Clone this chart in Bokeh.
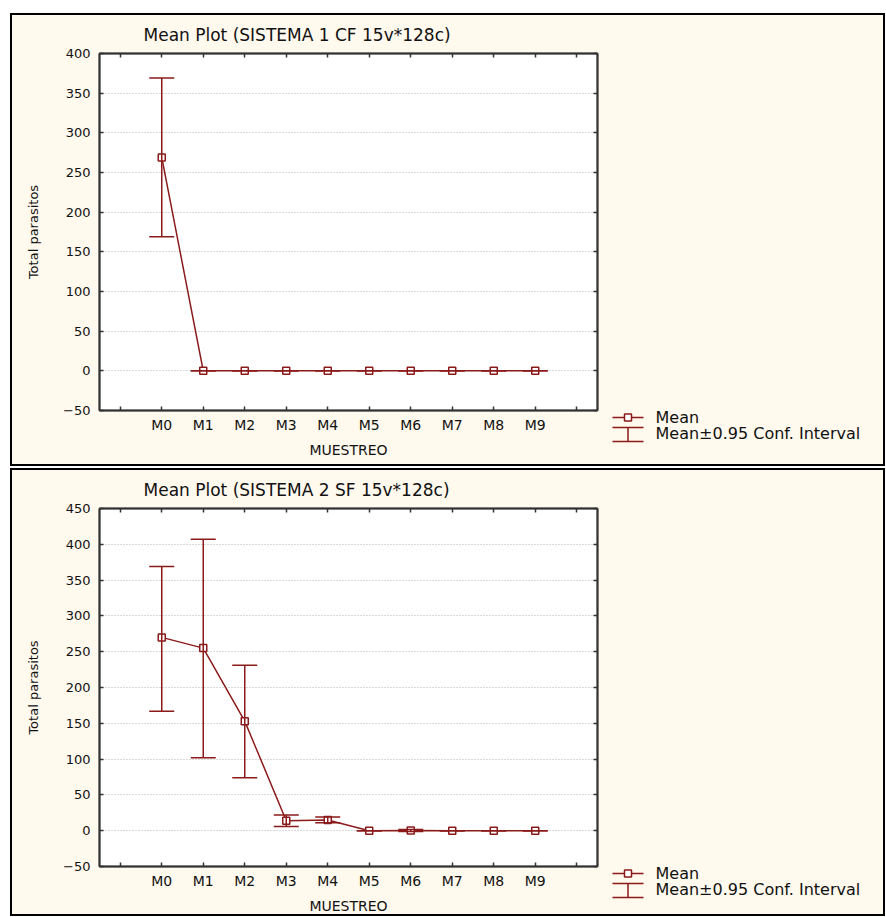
from bokeh.plotting import figure
from bokeh.models import (ColumnDataSource, Range1d, FixedTicker, LinearAxis,
                          Whisker, TeeHead, Label, Spacer, InlineStyleSheet)
from bokeh.layouts import column, row
from bokeh.embed import file_html
from bokeh.resources import INLINE

# ---------------- data ----------------
categories = ["M0", "M1", "M2", "M3", "M4", "M5", "M6", "M7", "M8", "M9"]

s1_title = "Mean Plot (SISTEMA 1 CF 15v*128c)"
s1_mean = [269, 0, 0, 0, 0, 0, 0, 0, 0, 0]
s1_lower = [169, 0, 0, 0, 0, 0, 0, 0, 0, 0]
s1_upper = [369, 0, 0, 0, 0, 0, 0, 0, 0, 0]
s1_yticks = [-50, 0, 50, 100, 150, 200, 250, 300, 350, 400]

s2_title = "Mean Plot (SISTEMA 2 SF 15v*128c)"
s2_mean = [270, 255, 153, 14, 15, 0, 0.3, 0, 0, 0]
s2_lower = [167, 102, 74, 6, 11, 0, -1.2, 0, 0, 0]
s2_upper = [369, 407, 231, 22, 19, 0, 1.8, 0, 0, 0]
s2_yticks = [-50, 0, 50, 100, 150, 200, 250, 300, 350, 400, 450]

x_label = "MUESTREO"
y_label = "Total parasitos"
legend_mean = "Mean"
legend_ci = "Mean\u00b10.95 Conf. Interval"

# ---------------- style ----------------
RED = "#8B1A1A"
CREAM = "#FFF9EE"
AXC = "#333333"
FONT = "DejaVu Sans"
TXT = "#111111"
MAIN_W = 600
LEG_W = 275


def style_axis(ax):
    ax.axis_line_color = AXC
    ax.axis_line_width = 2
    ax.major_tick_line_color = AXC
    ax.major_tick_line_width = 1.5
    ax.major_tick_in = 4
    ax.major_tick_out = 0
    ax.minor_tick_line_color = AXC
    ax.minor_tick_line_width = 1.5
    ax.minor_tick_in = 4
    ax.minor_tick_out = 0
    ax.major_label_text_font = FONT
    ax.major_label_text_color = TXT
    ax.axis_label_text_font = FONT
    ax.axis_label_text_font_style = "normal"
    ax.axis_label_text_color = TXT


def make_main(title, mean, lower, upper, yticks, height, mb_top, mb_bottom):
    xs = [i + 1 for i in range(len(categories))]
    src = ColumnDataSource(dict(x=xs, mean=mean, lower=lower, upper=upper))
    edge_ticks = [0, len(categories) + 1]
    overrides = {i + 1: c for i, c in enumerate(categories)}

    p = figure(width=MAIN_W, height=height, output_backend="svg",
               toolbar_location=None,
               x_range=Range1d(-0.5, len(categories) + 1.5),
               y_range=Range1d(yticks[0], yticks[-1]),
               min_border_left=89, min_border_right=MAIN_W - 587,
               min_border_top=mb_top, min_border_bottom=mb_bottom,
               background_fill_color="white", border_fill_color=CREAM,
               outline_line_color=AXC, outline_line_width=1.5)

    p.title.text = title
    p.title.align = "left"
    p.title.offset = 44
    p.title.text_font = FONT
    p.title.text_font_size = "17px"
    p.title.text_font_style = "normal"
    p.title.text_color = TXT
    p.title.standoff = 18

    xa = p.below[0]
    ya = p.left[0]
    xa.ticker = FixedTicker(ticks=xs, minor_ticks=edge_ticks)
    xa.major_label_overrides = overrides
    xa.axis_label = x_label
    ya.ticker = FixedTicker(ticks=yticks)
    ya.axis_label = y_label

    top = LinearAxis(ticker=FixedTicker(ticks=xs, minor_ticks=edge_ticks))
    right = LinearAxis(ticker=FixedTicker(ticks=yticks))
    p.add_layout(top, "above")
    p.add_layout(right, "right")

    for ax in (xa, ya, top, right):
        style_axis(ax)
    for ax in (top, right):
        ax.major_label_text_color = None
        ax.major_label_standoff = 0

    xa.major_label_text_font_size = "14px"
    xa.major_label_standoff = 6
    xa.axis_label_text_font_size = "14px"
    xa.axis_label_standoff = 6
    ya.major_label_text_font_size = "13px"
    ya.major_label_standoff = 9
    ya.axis_label_text_font_size = "13px"
    ya.axis_label_standoff = 19

    p.xgrid.grid_line_color = None
    p.ygrid.grid_line_color = "#b4b4b4"
    p.ygrid.grid_line_dash = "1 2"
    p.ygrid.grid_line_width = 1

    # error bars (mean +/- 0.95 confidence interval)
    w = Whisker(source=src, base="x", upper="upper", lower="lower",
                line_color=RED, line_width=1.5, level="glyph",
                upper_head=TeeHead(size=25, line_color=RED, line_width=1.5),
                lower_head=TeeHead(size=25, line_color=RED, line_width=1.5))
    p.add_layout(w)

    # mean line + markers
    p.line("x", "mean", source=src, line_color=RED, line_width=1.5)
    p.scatter("x", "mean", source=src, marker="square", size=7,
              fill_color="white", line_color=RED, line_width=1.5)
    return p


def make_legend(height):
    # legend strip, in pixel-like units (y downwards)
    lg = figure(width=LEG_W, height=height, output_backend="svg",
                toolbar_location=None,
                x_range=Range1d(0, LEG_W), y_range=Range1d(height, 0),
                min_border=0, background_fill_color=CREAM,
                border_fill_color=CREAM, outline_line_color=None)
    lg.axis.visible = False
    lg.grid.visible = False
    gx0, gx1, gxc = 2, 33, 17.5
    ym, yc0, yc1 = 10, 20, 34
    # "Mean" symbol: line with open square
    lg.segment(x0=[gx0], y0=[ym], x1=[gx1], y1=[ym], line_color=RED, line_width=1.5)
    lg.scatter(x=[gxc], y=[ym], marker="square", size=7,
               fill_color="white", line_color=RED, line_width=1.5)
    # confidence-interval symbol: I-beam
    lg.segment(x0=[gxc, gx0, gx0], y0=[yc0, yc0, yc1],
               x1=[gxc, gx1, gx1], y1=[yc1, yc0, yc1],
               line_color=RED, line_width=1.5)
    lg.add_layout(Label(x=45, y=ym, text=legend_mean, text_baseline="middle",
                        text_font=FONT, text_font_size="16px", text_color=TXT))
    lg.add_layout(Label(x=45, y=(yc0 + yc1) / 2 - 1, text=legend_ci,
                        text_baseline="middle",
                        text_font=FONT, text_font_size="16px", text_color=TXT))
    return lg


H1, H2 = 453, 448
p1 = make_main(s1_title, s1_mean, s1_lower, s1_upper, s1_yticks, H1, 40, H1 - 397)
p2 = make_main(s2_title, s2_mean, s2_lower, s2_upper, s2_yticks, H2, 40, H2 - 399)
l1 = make_legend(50)
l2 = make_legend(46)

border_css = InlineStyleSheet(css="""
:host { position: relative; }
:host::after {
  content: '';
  position: absolute;
  left: 0; top: 0; right: 0; bottom: 0;
  border: 2px solid #000000;
  pointer-events: none;
  z-index: 100;
}
""")
panel_style = {"background-color": CREAM}

r1 = row(p1, column(Spacer(width=LEG_W, height=H1 - 59), l1))
r1.margin = (13, 0, 0, 10)
r1.styles = panel_style
r1.stylesheets = [border_css]
r2 = row(p2, column(Spacer(width=LEG_W, height=H2 - 53), l2))
r2.margin = (2, 0, 0, 10)
r2.styles = panel_style
r2.stylesheets = [border_css]

layout = column(r1, r2)
open("out.html", "w").write(file_html(layout, INLINE))
